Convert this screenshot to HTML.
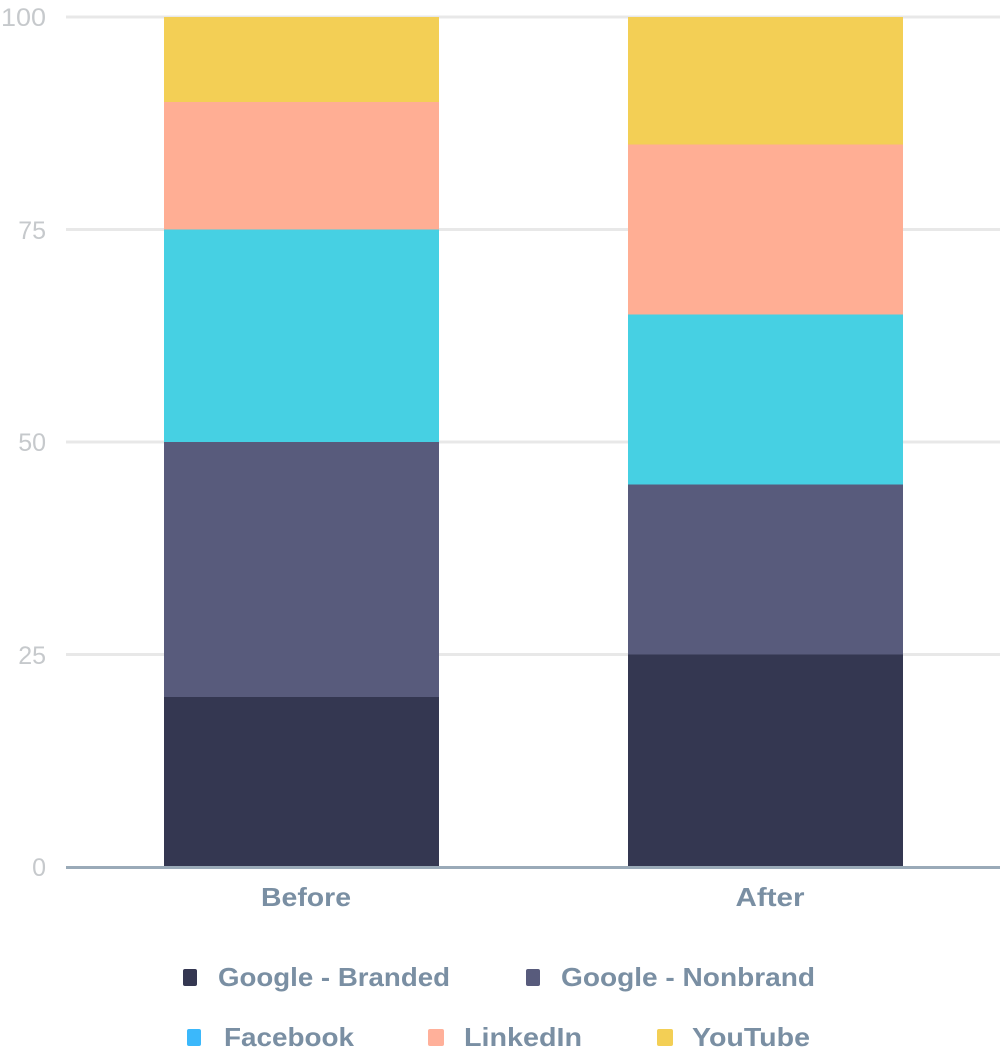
<!DOCTYPE html>
<html><head><meta charset="utf-8"><style>
html,body{margin:0;padding:0;background:#fff;width:1000px;height:1055px;overflow:hidden}
</style></head><body>
<svg width="1000" height="1055" xmlns="http://www.w3.org/2000/svg" font-family="'Liberation Sans',sans-serif">
<g stroke="#e8e8e8" stroke-width="3">
<line x1="66" x2="1000" y1="17" y2="17"/>
<line x1="66" x2="1000" y1="229.5" y2="229.5"/>
<line x1="66" x2="1000" y1="442" y2="442"/>
<line x1="66" x2="1000" y1="654.5" y2="654.5"/>
</g>
<g font-size="25" fill="#c6c9cc" text-anchor="end">
<text x="46" y="26" textLength="45" lengthAdjust="spacingAndGlyphs">100</text>
<text x="46" y="239">75</text>
<text x="46" y="451">50</text>
<text x="46" y="664">25</text>
<text x="46" y="876">0</text>
</g>
<rect x="164" y="697" width="275" height="170" fill="#343751"/>
<rect x="164" y="442" width="275" height="255" fill="#585b7c"/>
<rect x="164" y="229.5" width="275" height="212.5" fill="#46d0e3"/>
<rect x="164" y="102" width="275" height="127.5" fill="#ffae94"/>
<rect x="164" y="17" width="275" height="85" fill="#f3cf55"/>
<rect x="628" y="654.5" width="275" height="212.5" fill="#343751"/>
<rect x="628" y="484.5" width="275" height="170" fill="#585b7c"/>
<rect x="628" y="314.5" width="275" height="170" fill="#46d0e3"/>
<rect x="628" y="144.5" width="275" height="170" fill="#ffae94"/>
<rect x="628" y="17" width="275" height="127.5" fill="#f3cf55"/>
<line x1="66" x2="1000" y1="867.5" y2="867.5" stroke="#9aaab8" stroke-width="3"/>
<g font-size="26" font-weight="bold" fill="#7a8fa3" lengthAdjust="spacingAndGlyphs">
<text x="306" y="906" text-anchor="middle" textLength="90" lengthAdjust="spacingAndGlyphs">Before</text>
<text x="770" y="906" text-anchor="middle" textLength="69" lengthAdjust="spacingAndGlyphs">After</text>
<rect x="183" y="969" width="14" height="17" rx="2" fill="#343751"/>
<text x="218" y="986" textLength="232" lengthAdjust="spacingAndGlyphs">Google - Branded</text>
<rect x="526" y="969" width="14" height="17" rx="2" fill="#585b7c"/>
<text x="561" y="986" textLength="254" lengthAdjust="spacingAndGlyphs">Google - Nonbrand</text>
<rect x="187" y="1029" width="14" height="17" rx="2" fill="#3bb8fb"/>
<text x="224" y="1046" textLength="130" lengthAdjust="spacingAndGlyphs">Facebook</text>
<rect x="428" y="1029" width="16" height="17" rx="2" fill="#ffb09a"/>
<text x="464" y="1046" textLength="118" lengthAdjust="spacingAndGlyphs">LinkedIn</text>
<rect x="657" y="1029" width="16" height="17" rx="2" fill="#f3cf55"/>
<text x="692" y="1046" textLength="118" lengthAdjust="spacingAndGlyphs">YouTube</text>
</g>
</svg>
</body></html>
